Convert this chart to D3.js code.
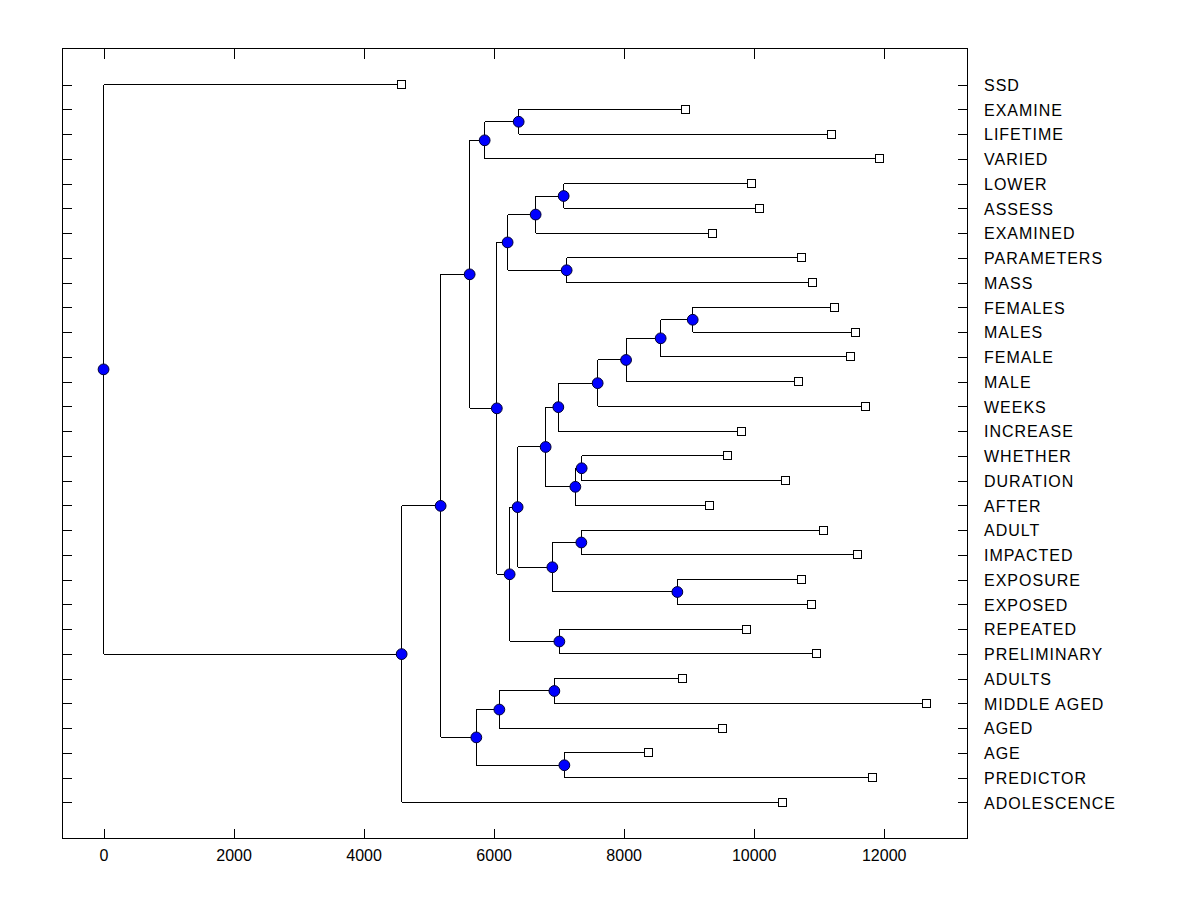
<!DOCTYPE html>
<html>
<head>
<meta charset="utf-8">
<script src="https://cdn.jsdelivr.net/npm/d3@7"></script>
<style>
  body { margin: 0; background: #fff; }
  text { font-family: "Liberation Sans", Arial, sans-serif; fill: #000; }
</style>
</head>
<body>
<div id="chart"></div>
<script>
// Leaf labels, top to bottom
const labels = ["SSD", "EXAMINE", "LIFETIME", "VARIED", "LOWER", "ASSESS", "EXAMINED",
    "PARAMETERS", "MASS", "FEMALES", "MALES", "FEMALE", "MALE", "WEEKS", "INCREASE",
    "WHETHER", "DURATION", "AFTER", "ADULT", "IMPACTED", "EXPOSURE", "EXPOSED",
    "REPEATED", "PRELIMINARY", "ADULTS", "MIDDLE AGED", "AGED", "AGE", "PREDICTOR",
    "ADOLESCENCE"];

// x value where each leaf square sits
const leafHeights = [4585, 8954, 11200, 11938, 9969, 10092, 9369,
    10738, 10908, 11246, 11569, 11492, 10692, 11723, 9815,
    9600, 10492, 9323, 11069, 11591, 10734, 10888,
    9888, 10965, 8898, 12657, 9514, 8377, 11822,
    10446];

// merges: ids 0..29 are leaves, merge i gets id 30 + i
const mergeLeft   = [1, 30, 4, 32, 7, 33, 9, 36, 37, 38, 39, 15, 41, 40, 18, 20, 44, 43, 22, 47, 35, 31, 24, 52, 27, 53, 51, 56, 0];
const mergeRight  = [2, 3, 5, 6, 8, 34, 10, 11, 12, 13, 14, 16, 17, 42, 19, 21, 45, 46, 23, 48, 49, 50, 25, 26, 28, 54, 55, 29, 57];
const mergeHeights = [6385, 5862, 7077, 6646, 7123, 6215, 9062, 8569, 8037, 7600, 6995, 7354, 7257, 6800,
    7349, 8826, 6903, 6369, 7011, 6246, 6049, 5631, 6934, 6088, 7088, 5734, 5185, 4585, 0];

const xTicks = [0, 2000, 4000, 6000, 8000, 10000, 12000];

const W = 1200, H = 900;
const frame = {left: 62, right: 967, top: 48.5, bottom: 838.5};

const svg = d3.select("#chart")
    .append("svg")
    .attr("width", W)
    .attr("height", H);

const x = d3.scaleLinear()
    .domain([-639, 13281])
    .range([frame.left, frame.right]);

const y = d3.scalePoint()
    .domain(labels)
    .range([frame.top, frame.bottom])
    .padding(1.46);

const nLeaves = labels.length;

// position of any node id
function nodeX(id) {
    return id < nLeaves ? x(leafHeights[id]) : x(mergeHeights[id - nLeaves]);
}
function nodeY(id) {
    if (id < nLeaves) return y(labels[id]);
    const i = id - nLeaves;
    return (nodeY(mergeLeft[i]) + nodeY(mergeRight[i])) / 2;
}

// Axes (ticks point inward, domain drawn by frame)
const bottomAxis = svg.append("g")
    .attr("transform", `translate(0,${frame.bottom})`)
    .call(d3.axisBottom(x).tickValues(xTicks).tickSizeInner(-10).tickSizeOuter(0)
        .tickPadding(11).tickFormat(d3.format("d")));
bottomAxis.selectAll("text").style("font-size", "16px");

svg.append("g")
    .attr("transform", `translate(0,${frame.top})`)
    .call(d3.axisTop(x).tickValues(xTicks).tickSizeInner(-10).tickSizeOuter(0).tickFormat(""));

svg.append("g")
    .attr("transform", `translate(${frame.left},0)`)
    .call(d3.axisLeft(y).tickSizeInner(-10).tickSizeOuter(0).tickFormat(""));

const rightAxis = svg.append("g")
    .attr("transform", `translate(${frame.right},0)`)
    .call(d3.axisRight(y).tickSizeInner(-9).tickSizeOuter(0).tickPadding(17));
rightAxis.selectAll("text")
    .attr("dy", "0.36em")
    .style("font-size", "16px")
    .style("letter-spacing", "1px");

svg.selectAll(".domain").remove();
svg.selectAll(".tick line").attr("stroke", "#000").attr("shape-rendering", "crispEdges");

// Frame
svg.append("rect")
    .attr("x", frame.left)
    .attr("y", frame.top)
    .attr("width", frame.right - frame.left)
    .attr("height", frame.bottom - frame.top)
    .attr("fill", "none")
    .attr("stroke", "#000")
    .attr("shape-rendering", "crispEdges");

// Links
const links = svg.append("g")
    .attr("stroke", "#000")
    .attr("stroke-width", 1)
    .attr("shape-rendering", "crispEdges");

mergeHeights.forEach((h, i) => {
    const id = nLeaves + i;
    const px = nodeX(id);
    const a = mergeLeft[i], b = mergeRight[i];
    links.append("line")
        .attr("x1", px).attr("x2", px)
        .attr("y1", nodeY(a)).attr("y2", nodeY(b));
    [a, b].forEach(c => {
        links.append("line")
            .attr("x1", px).attr("x2", nodeX(c))
            .attr("y1", nodeY(c)).attr("y2", nodeY(c));
    });
});

// Leaf squares
svg.append("g")
    .selectAll("rect")
    .data(labels)
    .join("rect")
    .attr("x", (d, i) => nodeX(i) - 4)
    .attr("y", (d, i) => nodeY(i) - 4)
    .attr("width", 8)
    .attr("height", 8)
    .attr("fill", "#fff")
    .attr("stroke", "#000")
    .attr("shape-rendering", "crispEdges");

// Merge nodes
svg.append("g")
    .selectAll("circle")
    .data(mergeHeights)
    .join("circle")
    .attr("cx", (d, i) => nodeX(nLeaves + i))
    .attr("cy", (d, i) => nodeY(nLeaves + i))
    .attr("r", 5.4)
    .attr("fill", "#0000ff")
    .attr("stroke", "#000033")
    .attr("stroke-width", 1);
</script>
</body>
</html>
